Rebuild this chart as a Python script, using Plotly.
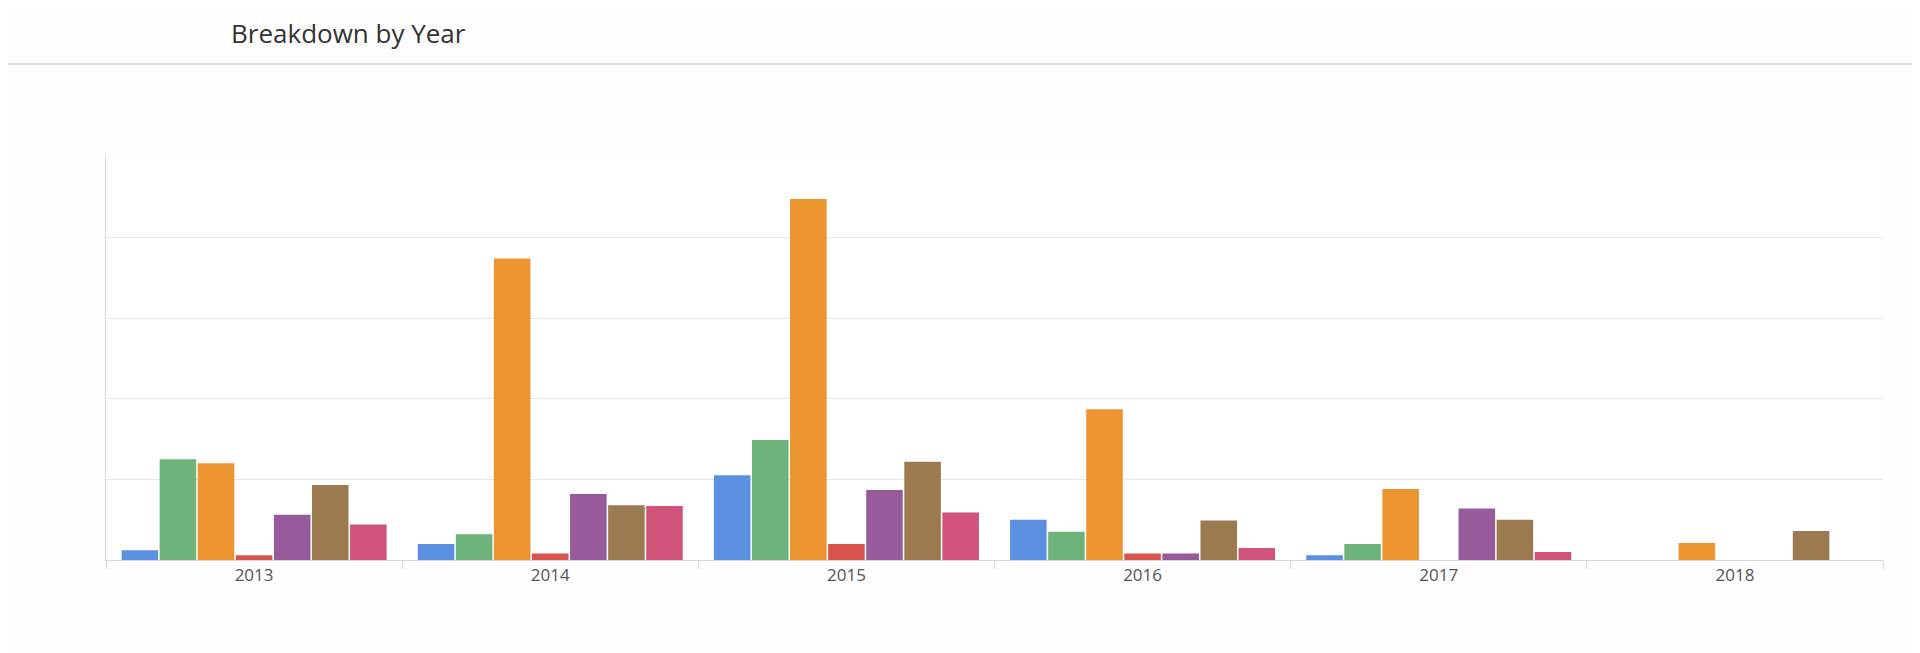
import plotly.graph_objects as go

years = ["2013", "2014", "2015", "2016", "2017", "2018"]
series_names = ["Series 1", "Series 2", "Series 3", "Series 4", "Series 5", "Series 6", "Series 7"]
s1 = [0.12, 0.20, 1.05, 0.50, 0.06, 0]
s2 = [1.25, 0.32, 1.49, 0.35, 0.20, 0]
s3 = [1.20, 3.74, 4.48, 1.87, 0.88, 0.21]
s4 = [0.06, 0.08, 0.20, 0.08, 0, 0]
s5 = [0.56, 0.82, 0.87, 0.08, 0.64, 0]
s6 = [0.93, 0.68, 1.22, 0.49, 0.50, 0.36]
s7 = [0.44, 0.67, 0.59, 0.15, 0.10, 0]
values = [s1, s2, s3, s4, s5, s6, s7]
colors = ["#5b8fe0", "#6db37a", "#ec9430", "#d9534f", "#975a9a", "#9b7a50", "#d0547a"]

fig = go.Figure()
for name, v, c in zip(series_names, values, colors):
    fig.add_trace(go.Bar(x=years, y=v, name=name, marker_color=c, marker_line_width=0))

fig.update_layout(
    width=1912, height=645,
    paper_bgcolor="#fdfdfd", plot_bgcolor="#ffffff",
    margin=dict(l=98, r=37, t=149, b=93),
    barmode="group", bargap=0.1, bargroupgap=0.04,
    showlegend=False,
    font=dict(family="Open Sans, sans-serif", color="#555"),
    annotations=[dict(text="Breakdown by Year", xref="paper", yref="paper",
                      x=(229 - 106) / 1777, y=(560 - 33) / 403,
                      xanchor="left", yanchor="middle", showarrow=False,
                      font=dict(size=26, color="#333"))],
    shapes=[dict(type="line", xref="paper", yref="paper", x0=-106 / 1777, x1=(1920 - 106) / 1777,
                 y0=(560 - 64) / 403, y1=(560 - 64) / 403, line=dict(color="#d0d0d0", width=1.5))],
)
fig.update_xaxes(showline=True, linecolor="#d8d8d8", ticks="outside", tickson="boundaries",
                 ticklen=8, tickcolor="#d8d8d8", tickfont=dict(size=17, color="#555"))
fig.update_yaxes(range=[0, 5], dtick=1, showgrid=True, gridcolor="#e6e6e6", showline=True,
                 linecolor="#d8d8d8", showticklabels=False, zeroline=False)
fig.write_html("out.html")
